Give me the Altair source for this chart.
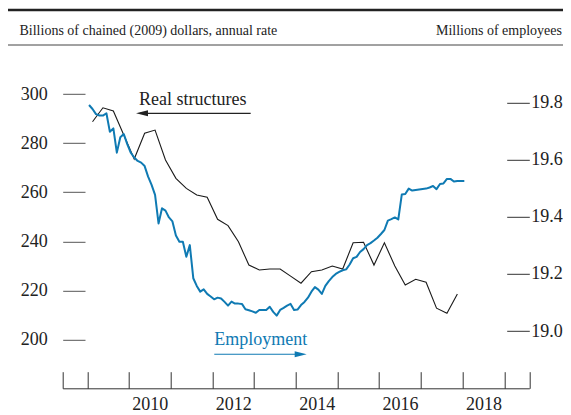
import altair as alt
import pandas as pd

# ---------------- data ----------------
struct_start = "2009Q1"
struct_values = [288.8, 294.5, 293.2, 283.4,
                 273.6, 284.1, 285.4, 273.2,
                 265.7, 261.6, 258.9, 258.0,
                 249.0, 246.4, 239.8, 230.3,
                 228.3, 228.7, 228.7, 225.8,
                 222.9, 227.6, 228.3, 229.9,
                 228.7, 239.4, 239.6, 230.3,
                 239.4, 229.9, 222.2, 224.5,
                 223.3, 212.7, 210.6, 218.5]

emp_start = "2009-01"
emp_values = [19.792, 19.778, 19.760, 19.755, 19.755, 19.763, 19.698, 19.710, 19.625, 19.679, 19.690, 19.655,
              19.625, 19.608, 19.596, 19.590, 19.578, 19.541, 19.512, 19.477, 19.377, 19.430, 19.422, 19.398,
              19.384, 19.335, 19.313, 19.313, 19.260, 19.301, 19.185, 19.158, 19.138, 19.146, 19.130, 19.121,
              19.111, 19.117, 19.114, 19.102, 19.089, 19.103, 19.096, 19.096, 19.095, 19.076, 19.073, 19.069,
              19.064, 19.074, 19.074, 19.074, 19.085, 19.067, 19.054, 19.074, 19.081, 19.089, 19.095, 19.074,
              19.075, 19.091, 19.102, 19.117, 19.138, 19.154, 19.145, 19.130, 19.158, 19.175, 19.189, 19.200,
              19.207, 19.213, 19.216, 19.233, 19.255, 19.260, 19.277, 19.287, 19.301, 19.308, 19.317, 19.327,
              19.340, 19.354, 19.387, 19.392, 19.398, 19.391, 19.478, 19.480, 19.499, 19.492, 19.494, 19.496,
              19.498, 19.499, 19.503, 19.508, 19.497, 19.515, 19.517, 19.533, 19.533, 19.524, 19.526, 19.526,
              19.526]

year_ticks = list(range(2009, 2020))
year_labels = [2010, 2012, 2014, 2016, 2018]
left_ticks = [200, 220, 240, 260, 280, 300]
right_ticks = [19.0, 19.2, 19.4, 19.6, 19.8]
header_left = "Billions of chained (2009) dollars, annual rate"
header_right = "Millions of employees"
label_struct = "Real structures"
label_emp = "Employment"

# ---------------- tables ----------------
q = pd.period_range(struct_start, periods=len(struct_values), freq="Q")
struct_df = pd.DataFrame({"t": q.year + (q.quarter - 1) / 4 + 0.125, "v": struct_values})
m = pd.period_range(emp_start, periods=len(emp_values), freq="M")
emp_df = pd.DataFrame({"t": m.year + (m.month - 1) / 12 + 1 / 24, "v": emp_values})
one = pd.DataFrame({"k": [0]})

# ---------------- style ----------------
F = "Liberation Serif"
TXT = "#222222"
BLUE = "#0f7ab3"
W, H = 466.6, 318.5
X_DOM = [2008.41, 2019.6]
L_DOM = [180, 310]
R_DOM = [18.7993, 19.9153]

xs = alt.Scale(domain=X_DOM, nice=False, zero=False)
ys_left = alt.Scale(domain=L_DOM, nice=False, zero=False)
ys_right = alt.Scale(domain=R_DOM, nice=False, zero=False)

tick_vals = [X_DOM[0]] + year_ticks + [X_DOM[1]]
label_vals = [y + 0.5 for y in year_labels]

struct_line = alt.Chart(struct_df).mark_line(color="#1a1a1a", strokeWidth=1.1).encode(
    x=alt.X("t:Q", scale=xs, title=None,
            axis=alt.Axis(orient="bottom", offset=-16.6, tickSize=16.6, values=tick_vals,
                          tickCount=40, labels=False, domain=False, grid=False,
                          tickColor="#333333", tickWidth=1)),
    y=alt.Y("v:Q", scale=ys_left, title=None,
            axis=alt.Axis(orient="left", offset=-22.3, tickSize=22.3, values=left_ticks,
                          tickCount=20, domain=False, grid=False, labelFont=F, labelFontSize=18,
                          labelColor=TXT, labelPadding=15.5, tickColor="#555555",
                          tickWidth=1)),
)

rs_text = alt.Chart(one).mark_text(text=label_struct, align="left", baseline="alphabetic",
                                   font=F, fontSize=18, color=TXT).encode(
    x=alt.datum(2010.24), y=alt.datum(295.6))
rs_rule = alt.Chart(one).mark_rule(color=TXT, strokeWidth=1.2).encode(
    x=alt.datum(2010.26), x2=alt.datum(2012.918), y=alt.datum(292.24))
rs_head = alt.Chart(one).mark_point(shape="M-1,0L1,-0.5L1,0.5Z", filled=True, size=144,
                                    color=TXT, opacity=1, strokeWidth=0).encode(
    x=alt.datum(2010.312), y=alt.datum(292.24))

em_text = alt.Chart(one).mark_text(text=label_emp, align="left", baseline="alphabetic",
                                   font=F, fontSize=18, color=BLUE).encode(
    x=alt.datum(2012.045), y=alt.datum(197.67))
em_rule = alt.Chart(one).mark_rule(color=BLUE, strokeWidth=1.2).encode(
    x=alt.datum(2012.045), x2=alt.datum(2014.117), y=alt.datum(193.9))
em_head = alt.Chart(one).mark_point(shape="M1,0L-1,-0.5L-1,0.5Z", filled=True, size=144,
                                    color=BLUE, opacity=1, strokeWidth=0).encode(
    x=alt.datum(2014.117), y=alt.datum(193.9))

# header
top_rule = alt.Chart(one).mark_rule(color="#222222", strokeWidth=2.4).encode(
    x=alt.value(-54.7), x2=alt.value(500.3), y=alt.value(-59.8))
sub_rule = alt.Chart(one).mark_rule(color="#444444", strokeWidth=1).encode(
    x=alt.value(-54.7), x2=alt.value(500.3), y=alt.value(-24.8))
head_l = alt.Chart(one).mark_text(text=header_left, align="left", baseline="alphabetic",
                                  font=F, fontSize=14, color=TXT).encode(
    x=alt.value(-43.2), y=alt.value(-34.8))
head_r = alt.Chart(one).mark_text(text=header_right, align="right", baseline="alphabetic",
                                  font=F, fontSize=14, color=TXT).encode(
    x=alt.value(499.3), y=alt.value(-34.8))

left_layer = alt.layer(struct_line, rs_text, rs_rule, rs_head, em_text, em_rule, em_head,
                       top_rule, sub_rule, head_l, head_r)

emp_line = alt.Chart(emp_df).mark_line(color=BLUE, strokeWidth=2, strokeJoin="round").encode(
    x=alt.X("t:Q", scale=xs, title=None,
            axis=alt.Axis(orient="bottom", values=label_vals, labelExpr="floor(datum.value)",
                          tickCount=20, ticks=False, tickSize=0, domain=True,
                          domainColor="#333333", domainWidth=1, labelFont=F, labelFontSize=18,
                          labelColor=TXT, labelPadding=7.3, grid=False, labelFlush=False)),
    y=alt.Y("v:Q", scale=ys_right, title=None,
            axis=alt.Axis(orient="right", offset=-22.6, tickSize=22.6, values=right_ticks,
                          tickCount=20, format=".1f", domain=False, grid=False, labelFont=F,
                          labelFontSize=18, labelColor=TXT, labelPadding=1.5,
                          tickColor="#333333", tickWidth=1)),
)

chart = alt.layer(left_layer, emp_line).resolve_scale(
    x="independent", y="independent"
).properties(
    width=W, height=H,
    autosize=alt.AutoSizeParams(type="none"),
    padding={"left": 54.7, "top": 61.8, "right": 33.7, "bottom": 24.7},
).configure_view(stroke=None)

chart.save("out.html", embed_options={"renderer": "svg", "actions": False})
